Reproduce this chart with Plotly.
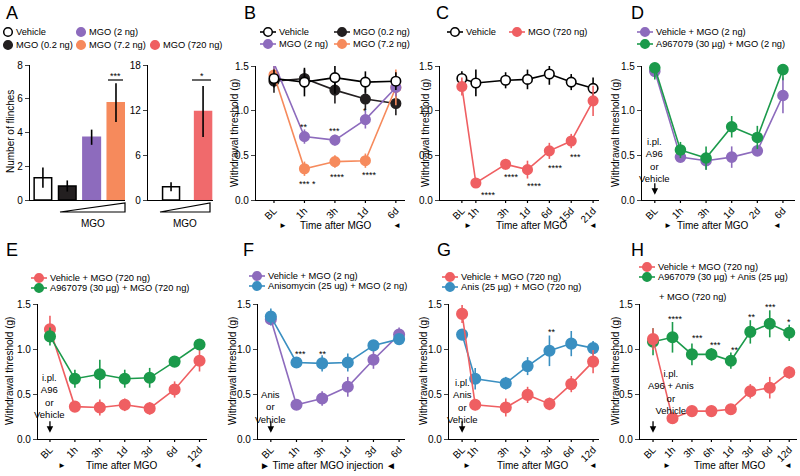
import plotly.graph_objects as go

W, H = 800, 476

# ---------------- data ----------------
# A: number of flinches
a_left_groups = ["Vehicle", "MGO (0.2 ng)", "MGO (2 ng)", "MGO (7.2 ng)"]
a_left_mean = [1.32, 0.83, 3.72, 5.77]
a_left_err = [0.6, 0.33, 0.45, 1.15]
a_right_groups = ["Vehicle", "MGO (720 ng)"]
a_right_mean = [1.78, 11.8]
a_right_err = [0.6, 3.4]

# B
b_times = ["BL", "1h", "3h", "1d", "6d"]
b_veh = [1.36, 1.32, 1.37, 1.32, 1.33]
b_veh_err = [0.1, 0.16, 0.18, 0.12, 0.1]
b_mgo02 = [1.33, 1.36, 1.23, 1.13, 1.08]
b_mgo02_err = [0.13, 0.1, 0.15, 0.12, 0.13]
b_mgo2 = [1.53, 0.71, 0.67, 0.9, 1.26]
b_mgo2_err = [0.07, 0.08, 0.06, 0.1, 0.1]
b_mgo72 = [1.4, 0.35, 0.43, 0.44, 1.26]
b_mgo72_err = [0.1, 0.08, 0.07, 0.08, 0.2]

# C
c_times = ["BL", "1h", "3h", "1d", "6d", "15d", "21d"]
c_veh = [1.36, 1.31, 1.34, 1.35, 1.41, 1.32, 1.25]
c_veh_err = [0.08, 0.15, 0.09, 0.11, 0.12, 0.09, 0.12]
c_mgo720 = [1.27, 0.19, 0.40, 0.34, 0.55, 0.66, 1.11]
c_mgo720_err = [0.1, 0.05, 0.06, 0.1, 0.09, 0.08, 0.17]

# D
d_times = ["BL", "1h", "3h", "1d", "2d", "6d"]
d_veh = [1.44, 0.48, 0.44, 0.48, 0.55, 1.17]
d_veh_err = [0.07, 0.04, 0.1, 0.12, 0.04, 0.2]
d_a96 = [1.48, 0.56, 0.47, 0.82, 0.70, 1.46]
d_a96_err = [0.13, 0.09, 0.13, 0.12, 0.13, 0.12]

# E
e_times = ["BL", "1h", "3h", "1d", "3d", "6d", "12d"]
e_veh = [1.22, 0.36, 0.35, 0.38, 0.34, 0.55, 0.87]
e_veh_err = [0.15, 0.06, 0.09, 0.07, 0.07, 0.09, 0.12]
e_a96 = [1.14, 0.67, 0.72, 0.67, 0.68, 0.86, 1.05]
e_a96_err = [0.1, 0.1, 0.16, 0.1, 0.11, 0.06, 0.03]

# F
f_times = ["BL", "1h", "3h", "1d", "3d", "6d"]
f_veh = [1.33, 0.38, 0.45, 0.58, 0.88, 1.16]
f_veh_err = [0.07, 0.05, 0.08, 0.11, 0.1, 0.08]
f_anis = [1.36, 0.85, 0.84, 0.85, 1.04, 1.11]
f_anis_err = [0.09, 0.06, 0.09, 0.1, 0.06, 0.05]

# G
g_times = ["BL", "1h", "3h", "1d", "3d", "6d", "12d"]
g_veh = [1.39, 0.38, 0.35, 0.49, 0.39, 0.61, 0.86]
g_veh_err = [0.1, 0.06, 0.1, 0.09, 0.07, 0.09, 0.13]
g_anis = [1.16, 0.67, 0.62, 0.81, 0.98, 1.06, 1.01]
g_anis_err = [0.06, 0.12, 0.07, 0.1, 0.17, 0.14, 0.08]

# H
h_times = ["BL", "1h", "3h", "6h", "1d", "3d", "6d", "12d"]
h_veh = [1.11, 0.23, 0.31, 0.31, 0.33, 0.53, 0.57, 0.74]
h_veh_err = [0.12, 0.03, 0.05, 0.06, 0.03, 0.08, 0.12, 0.07]
h_combo = [1.08, 1.13, 0.94, 0.94, 0.87, 1.19, 1.28, 1.18]
h_combo_err = [0.15, 0.17, 0.12, 0.07, 0.09, 0.13, 0.15, 0.09]

# time-axis slots (C and G put 1h close to BL)
c_slot = [0, 0.64, 2, 3, 4, 5, 6]
g_slot = [0, 0.6, 2, 3, 4, 5, 6]

PURPLE = "#8d6bbd"
ORANGE = "#f68a5c"
RED = "#ef5f62"
GREEN = "#1b9a4b"
BLUE = "#3a8fc1"
BLACK = "#231f20"
FONT = "Liberation Sans, Arial, sans-serif"

fig = go.Figure()
layout = {}
annotations = []
shapes = []


def X(p):
    return p / W


def Y(p):
    return 1 - p / H


def axes(i, xpx, ypx, xr, yr, tickvals=None, ticktext=None, ytick=None, yfmt=".1f", xticks=True):
    s = "" if i == 1 else str(i)
    layout["xaxis" + s] = dict(
        domain=[X(xpx[0]), X(xpx[1])], range=xr, anchor="y" + s, automargin=False,
        showline=True, linecolor="black", linewidth=1.3, showgrid=False, zeroline=False,
        ticks="", tickvals=tickvals if xticks else [], ticktext=ticktext, tickangle=-45,
        tickfont=dict(size=10, color="black", family=FONT), showticklabels=xticks)
    layout["yaxis" + s] = dict(
        domain=[Y(ypx[1]), Y(ypx[0])], range=yr, anchor="x" + s, automargin=False,
        showline=True, linecolor="black", linewidth=1.3, showgrid=False, zeroline=False,
        ticks="outside", ticklen=4, tickwidth=1.2, tickvals=ytick, tickformat=yfmt,
        tickfont=dict(size=10, color="black", family=FONT))
    # short tick marks under the x axis, one per time point
    for v in (tickvals if xticks else []):
        shapes.append(dict(type="line", xref="x" + s, yref="paper", x0=v, x1=v,
                           y0=Y(ypx[1]), y1=Y(ypx[1] + 3), line=dict(color="black", width=1.2)))
    return "x" + s, "y" + s


def series(ax, x, y, err, color, fill=None, size=9.5):
    fig.add_trace(go.Scatter(
        x=x, y=y, xaxis=ax[0], yaxis=ax[1], mode="lines+markers", cliponaxis=False,
        line=dict(color=color, width=1.6),
        marker=dict(size=size, color=fill or color, line=dict(color=color, width=1.6)),
        error_y=dict(type="data", array=err, color=color, thickness=1.6, width=0)))


def text(x, y, t, size=10, xanchor="center", angle=0, ref=None):
    d = dict(text=t, showarrow=False, font=dict(size=size, color="black", family=FONT),
             xanchor=xanchor, yanchor="middle", textangle=angle)
    if ref:
        d.update(x=x, y=y, xref=ref[0], yref=ref[1])
    else:
        d.update(x=X(x), y=Y(y), xref="paper", yref="paper")
    annotations.append(d)


def stars(ax, items):
    for t, x, y in items:
        text(x, y, t, size=9, ref=ax)


def legend_item(x, y, color, label, fill=None, line=True):
    if line:
        shapes.append(dict(type="line", xref="paper", yref="paper", x0=X(x - 8), x1=X(x + 8),
                           y0=Y(y), y1=Y(y), line=dict(color=color, width=1.6)))
    shapes.append(dict(type="circle", xref="paper", yref="paper", x0=X(x - 4.3), x1=X(x + 4.3),
                       y0=Y(y + 4.3), y1=Y(y - 4.3), fillcolor=fill or color,
                       line=dict(color=color, width=1.5)))
    text(x + 9 if line else x + 6, y, label, size=9.3, xanchor="left")


def pointer(ax, lines, y_text, y_head, x_text=0):
    text(x_text, y_text, "<br>".join(lines), size=9.5, ref=ax)
    annotations.append(dict(x=0, y=y_head, xref=ax[0], yref=ax[1], ax=0, ay=-13, text="",
                            showarrow=True, arrowhead=2, arrowsize=1, arrowwidth=1.3,
                            arrowcolor="black"))


def time_label(cx, left, right, y, label="Time after MGO"):
    text(cx, y, label, size=10)
    text(left, y, "►", size=8)
    text(right, y, "◄", size=8)


TOP = (66, 200)
BOT = (304, 439)
YT = [0, 0.5, 1.0, 1.5]
BIG = 10.5  # marker size in the lower row

# ---------------- A ----------------
axA = axes(1, (30, 125), (65, 200), [-0.53, 3.37], [0, 8], ytick=[0, 2, 4, 6, 8], yfmt="d", xticks=False)
fig.add_trace(go.Bar(x=list(range(len(a_left_groups))), y=a_left_mean, xaxis=axA[0], yaxis=axA[1],
                     width=0.72, marker=dict(color=["white", BLACK, PURPLE, ORANGE],
                                             line=dict(color=["black", "black", PURPLE, ORANGE], width=1.5)),
                     error_y=dict(type="data", array=a_left_err, color="black", thickness=1.6, width=0)))
axA2 = axes(2, (148, 213), (65, 200), [-0.72, 1.31], [0, 18], ytick=[0, 6, 12, 18], yfmt="d", xticks=False)
fig.add_trace(go.Bar(x=list(range(len(a_right_groups))), y=a_right_mean, xaxis=axA2[0], yaxis=axA2[1],
                     width=0.53, marker=dict(color=["white", "#f06a6c"],
                                             line=dict(color=["black", "#f06a6c"], width=1.5)),
                     error_y=dict(type="data", array=a_right_err, color="black", thickness=1.6, width=0)))
text(10, 132, "Number of flinches", size=10, angle=-90)
for x0, x1 in [(60, 125), (160, 210)]:
    shapes.append(dict(type="path", xref="paper", yref="paper",
                       path=f"M {X(x0)},{Y(212)} L {X(x1)},{Y(203)} L {X(x1)},{Y(212)} Z",
                       line=dict(color="black", width=1.2)))
text(93, 223, "MGO", size=10)
text(185, 223, "MGO", size=10)
for x0, x1, t in [(108, 123, "***"), (192, 211, "*")]:
    shapes.append(dict(type="line", xref="paper", yref="paper", x0=X(x0), x1=X(x1), y0=Y(80), y1=Y(80),
                       line=dict(color="black", width=1.2)))
    text((x0 + x1) / 2, 76, t, size=9)
legend_item(8, 32, "black", "Vehicle", fill="white", line=False)
legend_item(8, 45, BLACK, "MGO (0.2 ng)", line=False)
legend_item(81, 32, PURPLE, "MGO (2 ng)", line=False)
legend_item(81, 45, ORANGE, "MGO (7.2 ng)", line=False)
legend_item(155, 45, RED, "MGO (720 ng)", line=False)

# ---------------- B ----------------
b_x = list(range(len(b_times)))
axB = axes(3, (256, 405), TOP, [-0.59, 4.3], [0, 1.5], b_x, b_times, YT)
series(axB, b_x, b_mgo02, b_mgo02_err, BLACK)
series(axB, b_x, b_mgo72, b_mgo72_err, ORANGE)
series(axB, b_x, b_mgo2, b_mgo2_err, PURPLE)
series(axB, b_x, b_veh, b_veh_err, "black", fill="white")
stars(axB, [("**", 1, 0.82), ("***", 2, 0.77), ("*", 3, 1.0),
            ("*** *", 1.1, 0.18), ("****", 2.1, 0.26), ("****", 3.15, 0.28)])
legend_item(268, 32, "black", "Vehicle", fill="white")
legend_item(342, 32, BLACK, "MGO (0.2 ng)")
legend_item(268, 44, PURPLE, "MGO (2 ng)")
legend_item(342, 44, ORANGE, "MGO (7.2 ng)")
text(234, 133, "Withdrawal threshold (g)", angle=-90)
time_label(336, 283, 397, 225)

# ---------------- C ----------------
axC = axes(4, (440, 599), TOP, [-1.0, 6.27], [0, 1.5], c_slot, c_times, YT)
series(axC, c_slot, c_veh, c_veh_err, "black", fill="white")
series(axC, c_slot, c_mgo720, c_mgo720_err, RED)
stars(axC, [("****", 1.23, 0.06), ("****", 2.27, 0.26), ("****", 3.3, 0.16),
            ("****", 4.27, 0.36), ("***", 5.2, 0.48)])
legend_item(455, 32, "black", "Vehicle", fill="white")
legend_item(517, 32, RED, "MGO (720 ng)")
text(425, 133, "Withdrawal threshold (g)", angle=-90)
time_label(532, 468, 593, 225)

# ---------------- D ----------------
d_x = list(range(len(d_times)))
axD = axes(5, (642, 795), TOP, [-0.5, 5.47], [0, 1.5], d_x, d_times, YT)
series(axD, d_x, d_veh, d_veh_err, PURPLE, size=10)
series(axD, d_x, d_a96, d_a96_err, GREEN, size=10)
pointer(axD, ["i.pl.", "A96", "or", "Vehicle"], 0.45, 0.06)
legend_item(645, 32, PURPLE, "Vehicle + MGO (2 ng)")
legend_item(645, 44, GREEN, "A967079 (30 µg) + MGO (2 ng)")
text(615, 133, "Withdrawal threshold (g)", angle=-90)
time_label(713, 668, 777, 225)

# ---------------- E ----------------
e_x = list(range(len(e_times)))
axE = axes(6, (38, 207), BOT, [-0.48, 6.3], [0, 1.5], e_x, e_times, YT)
series(axE, e_x, e_veh, e_veh_err, RED, size=BIG)
series(axE, e_x, e_a96, e_a96_err, GREEN, size=BIG)
pointer(axE, ["i.pl.", "A96", "or", "Vehicle"], 0.48, 0.07)
legend_item(39, 278, RED, "Vehicle + MGO (720 ng)")
legend_item(39, 288, GREEN, "A967079 (30 µg) + MGO (720 ng)")
text(9, 371, "Withdrawal threshold (g)", angle=-90)
time_label(122, 62, 198, 465)

# ---------------- F ----------------
f_x = list(range(len(f_times)))
axF = axes(7, (258, 405), BOT, [-0.5, 5.23], [0, 1.5], f_x, f_times, YT)
series(axF, f_x, f_veh, f_veh_err, PURPLE, size=BIG)
series(axF, f_x, f_anis, f_anis_err, BLUE, size=BIG)
stars(axF, [("***", 1.15, 0.95), ("**", 2.05, 0.95)])
pointer(axF, ["Anis", "or", "Vehicle"], 0.36, 0.07)
legend_item(257, 276, PURPLE, "Vehicle + MGO (2 ng)")
legend_item(257, 286, BLUE, "Anisomycin (25 ug) + MGO (2 ng)")
text(232, 371, "Withdrawal threshold (g)", angle=-90)
text(328, 465, "► Time after MGO injection ◄", size=10)

# ---------------- G ----------------
axG = axes(8, (449, 599), BOT, [-0.6, 6.27], [0, 1.5], g_slot, g_times, YT)
series(axG, g_slot, g_anis, g_anis_err, BLUE, size=BIG)
series(axG, g_slot, g_veh, g_veh_err, RED, size=BIG)
stars(axG, [("**", 4.1, 1.19)])
pointer(axG, ["i.pl.", "Anis", "or", "Vehicle"], 0.42, 0.07)
legend_item(450, 277, RED, "Vehicle + MGO (720 ng)")
legend_item(450, 287, BLUE, "Anis (25 µg) + MGO (720 ng)")
text(423, 371, "Withdrawal threshold (g)", angle=-90)
time_label(533, 467, 593, 465)

# ---------------- H ----------------
h_x = list(range(len(h_times)))
axH = axes(9, (640, 797), BOT, [-0.67, 7.4], [0, 1.5], h_x, h_times, YT)
series(axH, h_x, h_combo, h_combo_err, GREEN, size=BIG)
series(axH, h_x, h_veh, h_veh_err, RED, size=BIG)
stars(axH, [("****", 1.13, 1.33), ("***", 2.3, 1.12), ("***", 3.2, 1.05), ("**", 4.2, 0.99),
            ("**", 5.1, 1.36), ("***", 6.03, 1.47), ("*", 7.0, 1.3)])
pointer(axH, ["i.pl.", "A96 + Anis", "or", "Vehicle"], 0.52, 0.07, x_text=0.9)
legend_item(647, 267, RED, "Vehicle + MGO (720 ng)")
legend_item(647, 277, GREEN, "A967079 (30 µg) + Anis (25 µg)")
text(657, 297, "+ MGO (720 ng)", size=9.3, xanchor="left")
text(615, 371, "Withdrawal threshold (g)", angle=-90)
time_label(730, 667, 788, 465)

# panel letters
for letter, x, y in [("A", 12, 13), ("B", 250, 13), ("C", 442, 13), ("D", 637, 13),
                     ("E", 12, 250), ("F", 248, 250), ("G", 444, 250), ("H", 637, 250)]:
    text(x, y, letter, size=18)

fig.update_layout(width=W, height=H, margin=dict(l=0, r=0, t=0, b=0, autoexpand=False),
                  paper_bgcolor="white", plot_bgcolor="white", showlegend=False,
                  font=dict(family=FONT, color="black"), annotations=annotations, shapes=shapes,
                  **layout)
# the page's default body margin would push the 800x476 figure off the window
fig.write_html("out.html", config={"displayModeBar": False},
               post_script="document.body.style.margin='0';")
